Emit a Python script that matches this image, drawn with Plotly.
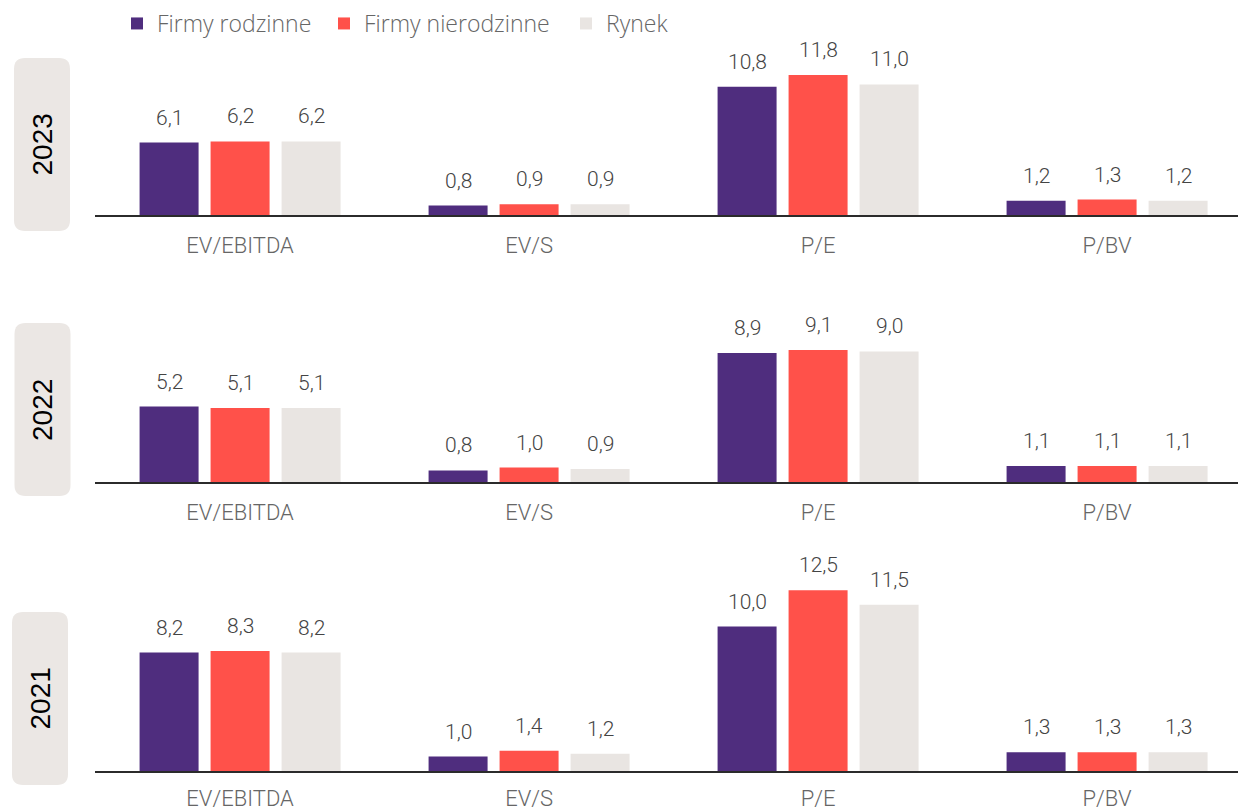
import plotly.graph_objects as go

categories = ["EV/EBITDA", "EV/S", "P/E", "P/BV"]
series_names = ["Firmy rodzinne", "Firmy nierodzinne", "Rynek"]
colors = ["#4F2D7E", "#FF514A", "#E9E5E2"]
years = ["2023", "2022", "2021"]

vals_2023_rodzinne = [6.1, 0.8, 10.8, 1.2]
vals_2023_nierodzinne = [6.2, 0.9, 11.8, 1.3]
vals_2023_rynek = [6.2, 0.9, 11.0, 1.2]

vals_2022_rodzinne = [5.2, 0.8, 8.9, 1.1]
vals_2022_nierodzinne = [5.1, 1.0, 9.1, 1.1]
vals_2022_rynek = [5.1, 0.9, 9.0, 1.1]

vals_2021_rodzinne = [8.2, 1.0, 10.0, 1.3]
vals_2021_nierodzinne = [8.3, 1.4, 12.5, 1.3]
vals_2021_rynek = [8.2, 1.2, 11.5, 1.3]

panels = [
    [vals_2023_rodzinne, vals_2023_nierodzinne, vals_2023_rynek],
    [vals_2022_rodzinne, vals_2022_nierodzinne, vals_2022_rynek],
    [vals_2021_rodzinne, vals_2021_nierodzinne, vals_2021_rynek],
]

W, H = 1238, 812
# pixel layout per panel: (baseline px, top px, y-range max, tick label offset)
panel_px = [(215, 60, 13.06, 10), (482, 330, 10.48, 10), (771, 570, 13.91, 7)]
box_px = [(42, 144.5), (42.5, 409.5), (40, 698.5)]
legend_widths = [162, 197, 70]

LIGHT = "Roboto, Liberation Sans, Arial"

fig = go.Figure()
layout = {}
annotations = []
shapes = []

slot_px = 71

for p, (data, (base, top, ymax, tlen)) in enumerate(zip(panels, panel_px)):
    suffix = "" if p == 0 else str(p + 1)
    xa, ya = "x" + suffix, "y" + suffix
    for s, (name, col, v) in enumerate(zip(series_names, colors, data)):
        fig.add_trace(go.Bar(
            x=categories, y=v, name=name, marker=dict(color=col, line=dict(width=0)),
            xaxis=xa, yaxis=ya, showlegend=(p == 0), legendgroup=name,
            legendwidth=legend_widths[s], hoverinfo="skip",
        ))
        for c, val in zip(categories, v):
            annotations.append(dict(
                x=c, y=val, xref=xa, yref=ya, text=f"{val:.1f}".replace(".", ","),
                showarrow=False, xanchor="center", yanchor="middle",
                xshift=(s - 1) * slot_px, yshift=25,
                font=dict(family=LIGHT, size=21, color="#444444", weight=300),
            ))
    dom = [1 - base / H, 1 - top / H]
    layout["xaxis" + suffix] = dict(
        domain=[95 / W, 1], anchor=ya, range=[-0.502, 3.453],
        showline=True, linecolor="#2b2b2b", linewidth=1.5,
        ticks="outside", ticklen=tlen, tickcolor="rgba(0,0,0,0)",
        tickfont=dict(family=LIGHT, size=22, color="#666666", weight=300),
        showgrid=False, zeroline=False, fixedrange=True, automargin=False,
    )
    layout["yaxis" + suffix] = dict(
        domain=dom, anchor=xa, range=[0, ymax], showticklabels=False,
        showgrid=False, zeroline=False, showline=False, ticks="", automargin=False,
    )
    # year box
    cx, cy = box_px[p]
    w, h, r = 56, 173, 11
    x0, x1, y0, y1 = -w / 2, w / 2, -h / 2, h / 2
    path = (f"M{x0 + r},{y0} L{x1 - r},{y0} Q{x1},{y0} {x1},{y0 + r} "
            f"L{x1},{y1 - r} Q{x1},{y1} {x1 - r},{y1} L{x0 + r},{y1} "
            f"Q{x0},{y1} {x0},{y1 - r} L{x0},{y0 + r} Q{x0},{y0} {x0 + r},{y0} Z")
    shapes.append(dict(
        type="path", path=path, xref="paper", yref="paper",
        xsizemode="pixel", ysizemode="pixel", xanchor=cx / W, yanchor=1 - cy / H,
        fillcolor="#EBE7E4", line=dict(width=0), layer="below",
    ))
    annotations.append(dict(
        x=cx / W, y=1 - cy / H, xref="paper", yref="paper", text=years[p],
        showarrow=False, textangle=-90, xanchor="center", yanchor="middle",
        font=dict(family="Liberation Sans, Arial", size=28, color="#000000"),
    ))

fig.update_layout(
    width=W, height=H, margin=dict(l=0, r=0, t=0, b=0, autoexpand=False),
    paper_bgcolor="white", plot_bgcolor="white",
    barmode="group", bargap=0.263, bargroupgap=0.169,
    showlegend=True,
    legend=dict(
        orientation="h", x=117 / W, xanchor="left", y=1 - 2 / H, yanchor="top",
        font=dict(family="Open Sans, Noto Sans", size=23, color="#666666", weight=300),
        itemwidth=30, traceorder="normal", bgcolor="rgba(0,0,0,0)",
    ),
    annotations=annotations, shapes=shapes,
    **layout,
)

fig.write_html("out.html")
